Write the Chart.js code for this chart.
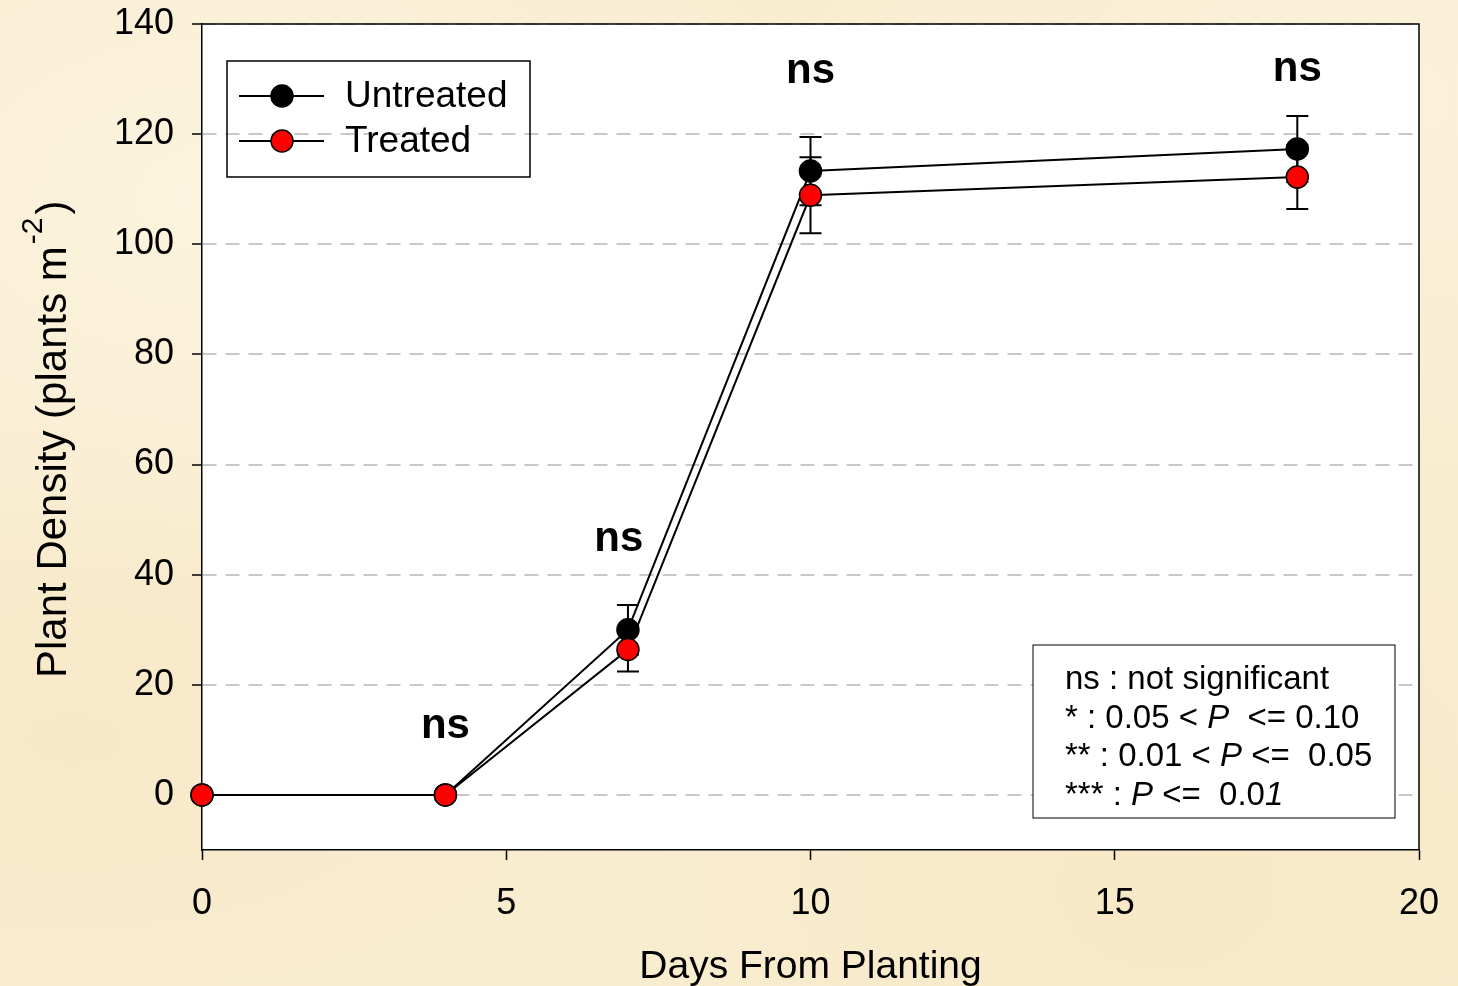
<!DOCTYPE html>
<html>
<head>
<meta charset="utf-8">
<script src="https://cdn.jsdelivr.net/npm/chart.js@4/dist/chart.umd.min.js"></script>
<style>
html, body { margin: 0; padding: 0; }
body {
  width: 1458px; height: 986px; overflow: hidden;
  background-color: #f9edd1;
  background-image:
    radial-gradient(ellipse at 15% 20%, rgba(253,246,228,0.7), transparent 35%),
    radial-gradient(ellipse at 80% 90%, rgba(246,230,192,0.6), transparent 35%),
    radial-gradient(ellipse at 5% 75%, rgba(246,230,194,0.6), transparent 30%),
    radial-gradient(ellipse at 95% 10%, rgba(252,244,224,0.6), transparent 30%);
}
canvas { display: block; }
</style>
</head>
<body>
<canvas id="densityChart" width="1458" height="986"></canvas>
<script>
// data
const days = [0, 4, 7, 10, 18];
const untreated = [0, 0, 30, 113.3, 117.3];
const treated = [0, 0, 26.4, 108.9, 112.2];
const untreatedSE = [0, 0, 4.5, 6.2, 6];
const treatedSE = [0, 0, 4, 6.9, 5.8];

const xTicks = [0, 5, 10, 15, 20];
const yTicks = [0, 20, 40, 60, 80, 100, 120, 140];

// "ns" marks above each sampling date (day, height in plants m-2)
const nsText = ['ns', 'ns', 'ns', 'ns'];
const nsDays = [4, 6.85, 10, 18];
const nsHeights = [12.4, 46.4, 131.3, 131.8];

const statsLines = [
  [['ns : not significant', false]],
  [['* : 0.05 < ', false], ['P', true], ['  <= 0.10', false]],
  [['** : 0.01 < ', false], ['P', true], [' <=  0.05', false]],
  [['*** : ', false], ['P', true], [' <=  0.0', false], ['1', true]]
];

const FONT = 'Arial, "Liberation Sans", sans-serif';

const plotBg = {
  id: 'plotBg',
  beforeDraw(chart) {
    const { ctx, chartArea: a } = chart;
    ctx.save();
    ctx.fillStyle = '#ffffff';
    ctx.fillRect(a.left, a.top, a.right - a.left, a.bottom - a.top);
    ctx.restore();
  }
};

const frameAndErrors = {
  id: 'frameAndErrors',
  beforeDatasetsDraw(chart) {
    const { ctx, chartArea: a, scales: { x, y } } = chart;
    ctx.save();
    ctx.strokeStyle = '#000';
    ctx.lineWidth = 1.5;
    ctx.beginPath();
    ctx.moveTo(a.left, a.top);
    ctx.lineTo(a.right, a.top);
    ctx.lineTo(a.right, a.bottom);
    ctx.stroke();

    ctx.lineWidth = 2;
    [[untreated, untreatedSE], [treated, treatedSE]].forEach(([vals, se]) => {
      days.forEach((d, i) => {
        if (!se[i]) return;
        const px = x.getPixelForValue(d);
        const top = y.getPixelForValue(vals[i] + se[i]);
        const bot = y.getPixelForValue(vals[i] - se[i]);
        ctx.beginPath();
        ctx.moveTo(px, top); ctx.lineTo(px, bot);
        ctx.moveTo(px - 11, top); ctx.lineTo(px + 11, top);
        ctx.moveTo(px - 11, bot); ctx.lineTo(px + 11, bot);
        ctx.stroke();
      });
    });
    ctx.restore();
  }
};

const extras = {
  id: 'extras',
  afterDraw(chart) {
    const { ctx, chartArea: a, scales: { x, y } } = chart;
    ctx.save();

    // ns labels
    ctx.fillStyle = '#000';
    ctx.font = 'bold 42px ' + FONT;
    ctx.textAlign = 'center';
    ctx.textBaseline = 'middle';
    nsText.forEach((t, i) => {
      ctx.fillText(t, x.getPixelForValue(nsDays[i]), y.getPixelForValue(nsHeights[i]));
    });

    // legend box
    const lx = a.left + 25, ly = a.top + 37;
    ctx.strokeStyle = '#000';
    ctx.lineWidth = 1.5;
    ctx.strokeRect(lx, ly, 303, 116);
    chart.data.datasets.forEach((ds, i) => {
      const cy = ly + 35 + i * 45;
      ctx.lineWidth = 2;
      ctx.beginPath();
      ctx.moveTo(lx + 12, cy); ctx.lineTo(lx + 97, cy);
      ctx.stroke();
      ctx.lineWidth = 1.5;
      ctx.beginPath();
      ctx.arc(lx + 55, cy, 11, 0, Math.PI * 2);
      ctx.fillStyle = ds.pointBackgroundColor;
      ctx.fill();
      ctx.stroke();
      ctx.fillStyle = '#000';
      ctx.font = '37px ' + FONT;
      ctx.textAlign = 'left';
      ctx.textBaseline = 'middle';
      ctx.fillText(ds.label, lx + 118, cy + 1);
    });

    // significance key
    const bx = a.right - 386, by = a.bottom - 205;
    ctx.fillStyle = '#fff';
    ctx.fillRect(bx, by, 362, 173);
    ctx.lineWidth = 1;
    ctx.strokeRect(bx, by, 362, 173);
    ctx.fillStyle = '#000';
    ctx.textAlign = 'left';
    ctx.textBaseline = 'middle';
    statsLines.forEach((segs, i) => {
      let tx = bx + 32;
      const ty = by + 35 + i * 38.5;
      segs.forEach(([t, it]) => {
        ctx.font = (it ? 'italic ' : '') + '33px ' + FONT;
        ctx.fillText(t, tx, ty);
        tx += ctx.measureText(t).width;
      });
    });

    // axis titles
    ctx.font = '39px ' + FONT;
    ctx.textAlign = 'center';
    ctx.textBaseline = 'alphabetic';
    ctx.fillText('Days From Planting', (a.left + a.right) / 2, 978);

    ctx.translate(66, 678);
    ctx.rotate(-Math.PI / 2);
    ctx.textAlign = 'left';
    ctx.font = '42px ' + FONT;
    const main = 'Plant Density (plants m';
    ctx.fillText(main, 0, 0);
    let w = ctx.measureText(main).width;
    ctx.font = '30px ' + FONT;
    ctx.fillText('-2', w + 2, -24);
    w += ctx.measureText('-2').width + 5;
    ctx.font = '42px ' + FONT;
    ctx.fillText(')', w, 0);
    ctx.restore();
  }
};

const tickFont = { family: FONT, size: 36 };

new Chart(document.getElementById('densityChart'), {
  type: 'line',
  data: {
    datasets: [
      {
        label: 'Untreated',
        data: days.map((d, i) => ({ x: d, y: untreated[i] })),
        borderColor: '#000', borderWidth: 2,
        pointRadius: 11, pointBackgroundColor: '#000',
        pointBorderColor: '#000', pointBorderWidth: 1.5,
        clip: false, order: 2
      },
      {
        label: 'Treated',
        data: days.map((d, i) => ({ x: d, y: treated[i] })),
        borderColor: '#000', borderWidth: 2,
        pointRadius: 11, pointBackgroundColor: '#ff0000',
        pointBorderColor: '#000', pointBorderWidth: 1.5,
        clip: false, order: 1
      }
    ]
  },
  options: {
    responsive: false,
    animation: false,
    devicePixelRatio: 1,
    layout: { padding: { top: 24, right: 39, left: 0, bottom: 0 } },
    plugins: { legend: { display: false }, tooltip: { enabled: false } },
    scales: {
      x: {
        type: 'linear', min: 0, max: 20,
        afterBuildTicks: s => { s.ticks = xTicks.map(v => ({ value: v })); },
        afterFit: s => { s.height = 136; s.paddingLeft = 0; s.paddingRight = 0; },
        grid: { drawOnChartArea: false, drawTicks: true, tickLength: 10, tickColor: '#000', tickWidth: 1.5 },
        border: { color: '#000', width: 1.5 },
        ticks: { font: tickFont, color: '#000', padding: 22, maxRotation: 0 }
      },
      y: {
        type: 'linear', min: -10, max: 140,
        afterBuildTicks: s => { s.ticks = yTicks.map(v => ({ value: v })); },
        afterFit: s => { s.width = 202; s.paddingTop = 0; s.paddingBottom = 0; },
        grid: { color: '#c8c8c8', lineWidth: 2, tickColor: '#000', tickLength: 10, tickWidth: 1.5, tickBorderDash: [] },
        border: { color: '#000', width: 1.5, dash: [14, 9] },
        ticks: { font: tickFont, color: '#000', padding: 18 }
      }
    }
  },
  plugins: [plotBg, frameAndErrors, extras]
});
</script>
</body>
</html>
